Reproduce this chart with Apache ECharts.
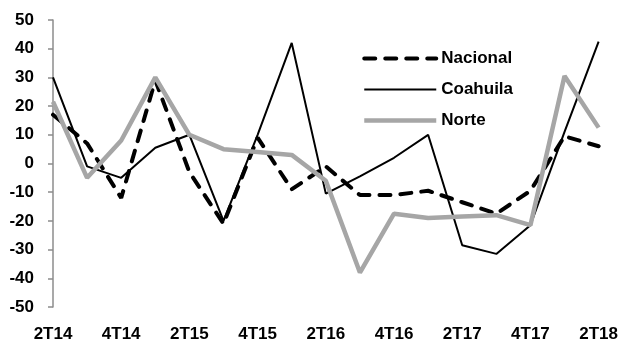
<!DOCTYPE html>
<html>
<head>
<meta charset="utf-8">
<script src="https://cdn.jsdelivr.net/npm/echarts@6/dist/echarts.min.js"></script>
<style>
  html, body { margin: 0; padding: 0; background: #fff; }
  #chart { width: 621px; height: 343px; }
</style>
</head>
<body>
<div id="chart"></div>
<script>
// trimestres
const categories = ['2T14', '3T14', '4T14', '1T15', '2T15', '3T15', '4T15', '1T16', '2T16',
  '3T16', '4T16', '1T17', '2T17', '3T17', '4T17', '1T18', '2T18'];

const nacional = [17, 7, -12, 29, -3, -21, 9, -9, -1, -11, -11, -9.5, -13.5, -17.5, -9.5, 9.5, 6];
const coahuila = [30, -1, -5, 5.5, 10, -20, 10, 42, -10.5, -4.5, 2, 10, -28.5, -31.5, -21.5, 11, 42.5];
const norte = [21.5, -5, 8, 30, 10, 5, 4, 3, -6, -38, -17.5, -19, -18.5, -18, -21.5, 30.5, 12.5];

const yTicks = { min: -50, max: 50, interval: 10 };

const font = 'Liberation Sans, Arial, sans-serif';

const nacionalLine = { color: '#000', width: 4, type: [11, 10], cap: 'round' };
const coahuilaLine = { color: '#000', width: 2 };
const norteLine = { color: '#a6a6a6', width: 4.5 };

const myChart = echarts.init(document.getElementById('chart'));

const option = {
  animation: false,
  backgroundColor: '#fff',
  grid: {
    left: 53,
    right: 22,
    top: 20,
    bottom: 34,
  },
  legend: {
    orient: 'vertical',
    left: 357,
    top: 45,
    itemWidth: 72,
    itemHeight: 17,
    itemGap: 14,
    itemStyle: { color: 'transparent', borderWidth: 0, opacity: 0 },
    textStyle: {
      fontFamily: font,
      fontWeight: 'bold',
      fontSize: 17,
      color: '#000',
    },
    data: [
      { name: 'Nacional', lineStyle: nacionalLine },
      { name: 'Coahuila', lineStyle: coahuilaLine },
      { name: 'Norte', lineStyle: norteLine },
    ],
  },
  xAxis: {
    type: 'category',
    boundaryGap: false,
    data: categories,
    axisLine: { show: false },
    axisTick: { show: false },
    axisLabel: {
      interval: 1,
      margin: 19,
      fontFamily: font,
      fontWeight: 'bold',
      fontSize: 17,
      color: '#000',
    },
  },
  yAxis: {
    type: 'value',
    min: yTicks.min,
    max: yTicks.max,
    interval: yTicks.interval,
    axisLine: {
      show: true,
      lineStyle: { color: '#8c8c8c', width: 1.5 },
    },
    axisTick: {
      show: true,
      inside: false,
      length: 5,
      lineStyle: { color: '#8c8c8c', width: 1.5 },
    },
    splitLine: { show: false },
    axisLabel: {
      margin: 19,
      fontFamily: font,
      fontWeight: 'bold',
      fontSize: 17,
      color: '#000',
    },
  },
  series: [
    {
      name: 'Nacional',
      type: 'line',
      symbol: 'none',
      data: nacional,
      lineStyle: nacionalLine,
      itemStyle: { color: '#000' },
    },
    {
      name: 'Coahuila',
      type: 'line',
      symbol: 'none',
      data: coahuila,
      lineStyle: coahuilaLine,
      itemStyle: { color: '#000' },
    },
    {
      name: 'Norte',
      type: 'line',
      symbol: 'none',
      data: norte,
      lineStyle: norteLine,
      itemStyle: { color: '#a6a6a6' },
    },
  ],
};

myChart.setOption(option);
</script>
</body>
</html>
